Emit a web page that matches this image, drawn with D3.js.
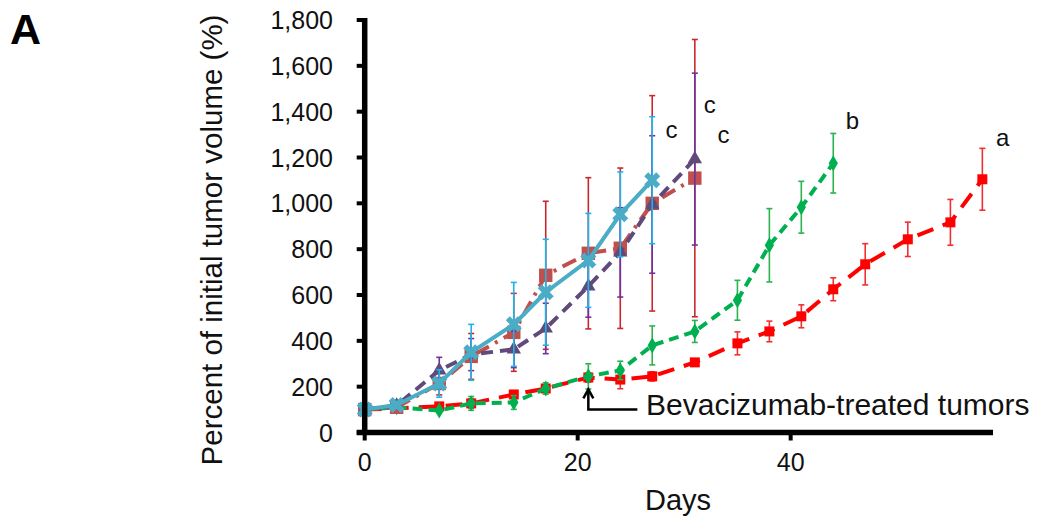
<!DOCTYPE html>
<html>
<head>
<meta charset="utf-8">
<script src="https://cdn.jsdelivr.net/npm/d3@7"></script>
<style>
  html, body { margin: 0; padding: 0; background: #fff; }
  svg { display: block; font-family: "Liberation Sans", Arial, sans-serif; }
</style>
</head>
<body>
<svg id="chart" width="1037" height="518"></svg>
<script>
// Measurement days for each group
const daysControlA = [0, 3, 7, 10, 14, 17, 21, 24, 27];          // cyan, solid
const daysControlB = [0, 3, 7, 10, 14, 17, 21, 24, 27, 31];      // brown, dash-dot
const daysControlC = [0, 3, 7, 10, 14, 17, 21, 24, 27, 31];      // purple, dashed
const daysBevB = [0, 3, 7, 10, 14, 17, 21, 24, 27, 31, 35, 38, 41, 44];  // green
const daysBevA = [0, 3, 7, 10, 14, 17, 21, 24, 27, 31, 35, 38, 41, 44, 47, 51, 55, 58]; // red

// Mean percent of initial tumour volume
const meanControlA = [100, 120, 214, 350, 472, 612, 751, 952, 1101];
const meanControlB = [100, 110, 214, 332, 437, 686, 782, 804, 1000, 1110];
const meanControlC = [100, 118, 271, 340, 363, 454, 638, 786, 995, 1193];
const meanBevB = [100, 110, 96, 127, 131, 192, 245, 271, 380, 441, 577, 817, 983, 1175];
const meanBevA = [100, 105, 114, 127, 166, 192, 240, 231, 245, 306, 389, 441, 507, 625, 734, 843, 917, 1105];

// Error (± half-width of each bar)
const errControlA = [0, 12, 60, 122, 183, 231, 205, 185, 277];
const errControlB = [0, 10, 50, 100, 170, 323, 330, 350, 470, 605];
const errControlC = [0, 12, 57, 70, 80, 110, 135, 195, 300, 375];
const errBevB = [0, 8, 10, 30, 30, 25, 55, 40, 85, 48, 87, 160, 113, 130];
const errBevA = [0, 8, 15, 20, 15, 15, 20, 40, 20, 15, 50, 45, 50, 50, 90, 75, 100, 135];

// Axis ticks
const yTicks = [0, 200, 400, 600, 800, 1000, 1200, 1400, 1600, 1800];
const xTicks = [0, 20, 40];

// Significance letters
const letterText = ["c", "c", "c", "b", "a"];
const letterDay = [28.8, 32.4, 33.7, 45.8, 59.9];
const letterVal = [1285, 1395, 1265, 1325, 1250];

const svg = d3.select("#chart");

const x = d3.scaleLinear().domain([0, 59]).range([364.7, 993]);
const y = d3.scaleLinear().domain([0, 1800]).range([432.5, 20]);

// ---- series definitions (built from the arrays above) ----
const series = [
  { days: daysBevA, mean: meanBevA, err: errBevA, line: "#FF0000", bar: "#F03030",
    dash: "17,10", shape: "square", size: 100 },
  { days: daysBevB, mean: meanBevB, err: errBevB, line: "#00B050", bar: "#2DB24F",
    dash: "10,6", shape: "diamond", size: 75 },
  { days: daysControlB, mean: meanControlB, err: errControlB, line: "#C0504D", bar: "#C8282D",
    dash: "15,7,3,7", shape: "square", size: 180 },
  { days: daysControlC, mean: meanControlC, err: errControlC, line: "#604A7B", bar: "#7030A0",
    dash: "12,7", shape: "triangle", size: 90 },
  { days: daysControlA, mean: meanControlA, err: errControlA, line: "#4BACC6", bar: "#1CB5EA",
    dash: null, shape: "x", size: 160 }
];

const symbolType = {
  square: d3.symbolSquare,
  diamond: d3.symbolDiamond,
  triangle: d3.symbolTriangle,
  x: d3.symbolCross
};

const plot = svg.append("g");

series.forEach(s => {
  const pts = s.days.map((d, i) => ({ d, v: s.mean[i], e: s.err[i] }));
  const g = plot.append("g");

  // error bars
  const eb = g.append("g").attr("stroke", s.bar).attr("stroke-width", 1.6).attr("fill", "none");
  pts.filter(p => p.e > 0).forEach(p => {
    const cx = x(p.d);
    eb.append("line").attr("x1", cx).attr("x2", cx).attr("y1", y(p.v - p.e)).attr("y2", y(p.v + p.e));
    eb.append("line").attr("x1", cx - 3).attr("x2", cx + 3).attr("y1", y(p.v - p.e)).attr("y2", y(p.v - p.e));
    eb.append("line").attr("x1", cx - 3).attr("x2", cx + 3).attr("y1", y(p.v + p.e)).attr("y2", y(p.v + p.e));
  });

  // connecting line
  g.append("path")
    .datum(pts)
    .attr("fill", "none")
    .attr("stroke", s.line)
    .attr("stroke-width", 4)
    .attr("stroke-dasharray", s.dash)
    .attr("d", d3.line().x(p => x(p.d)).y(p => y(p.v)));

  // markers
  g.selectAll("path.mk")
    .data(pts)
    .join("path")
    .attr("class", "mk")
    .attr("fill", s.line)
    .attr("transform", p => `translate(${x(p.d)},${y(p.v)}) rotate(${s.shape === "x" ? 45 : 0})`)
    .attr("d", d3.symbol().type(symbolType[s.shape]).size(s.size));
});

// ---- axes ----
const axisG = svg.append("g").attr("stroke", "#000").attr("fill", "none");
// y axis line and ticks
axisG.append("line").attr("x1", x(0)).attr("x2", x(0)).attr("y1", y(1800) - 2).attr("y2", y(0) + 2.5)
  .attr("stroke-width", 5.5);
yTicks.forEach(t => {
  axisG.append("line").attr("x1", x(0) - 8).attr("x2", x(0)).attr("y1", y(t)).attr("y2", y(t))
    .attr("stroke-width", 4);
});
// x axis line and ticks
axisG.append("line").attr("x1", x(0) - 8).attr("x2", x(59)).attr("y1", y(0)).attr("y2", y(0))
  .attr("stroke-width", 5.5);
xTicks.forEach(t => {
  axisG.append("line").attr("x1", x(t)).attr("x2", x(t)).attr("y1", y(0)).attr("y2", y(0) + 8)
    .attr("stroke-width", 4);
});

// tick labels
svg.append("g").selectAll("text")
  .data(yTicks)
  .join("text")
  .attr("x", 333)
  .attr("y", t => y(t))
  .attr("dy", "0.36em")
  .attr("text-anchor", "end")
  .attr("font-size", 25)
  .attr("fill", "#111")
  .text(d3.format(","));

svg.append("g").selectAll("text")
  .data(xTicks)
  .join("text")
  .attr("x", t => x(t))
  .attr("y", 471)
  .attr("text-anchor", "middle")
  .attr("font-size", 25)
  .attr("fill", "#111")
  .text(d => d);

// axis titles
svg.append("text")
  .attr("transform", "translate(222,240) rotate(-90)")
  .attr("text-anchor", "middle")
  .attr("font-size", 29.5)
  .attr("fill", "#111")
  .text("Percent of initial tumor volume (%)");

svg.append("text")
  .attr("x", 678)
  .attr("y", 510)
  .attr("text-anchor", "middle")
  .attr("font-size", 29)
  .attr("fill", "#111")
  .text("Days");

// panel letter
svg.append("text")
  .attr("x", 10)
  .attr("y", 44)
  .attr("font-size", 43)
  .attr("font-weight", "bold")
  .attr("fill", "#000")
  .text("A");

// significance letters
svg.append("g").selectAll("text")
  .data(letterText)
  .join("text")
  .attr("x", (d, i) => x(letterDay[i]))
  .attr("y", (d, i) => y(letterVal[i]))
  .attr("text-anchor", "middle")
  .attr("font-size", 24)
  .attr("fill", "#111")
  .text(d => d);

// treatment annotation with arrow pointing at day 21
const ax = x(21);
const arrow = svg.append("g").attr("stroke", "#000").attr("stroke-width", 2.5).attr("fill", "none");
arrow.append("path").attr("d", `M${ax},${y(188)} L${ax},${y(100)} L${ax + 49},${y(100)}`);
arrow.append("path").attr("d", `M${ax - 5},${y(188) + 9} L${ax},${y(188)} L${ax + 5},${y(188) + 9}`);

svg.append("text")
  .attr("x", 646)
  .attr("y", 415)
  .attr("font-size", 30)
  .attr("fill", "#111")
  .text("Bevacizumab-treated tumors");
</script>
</body>
</html>
